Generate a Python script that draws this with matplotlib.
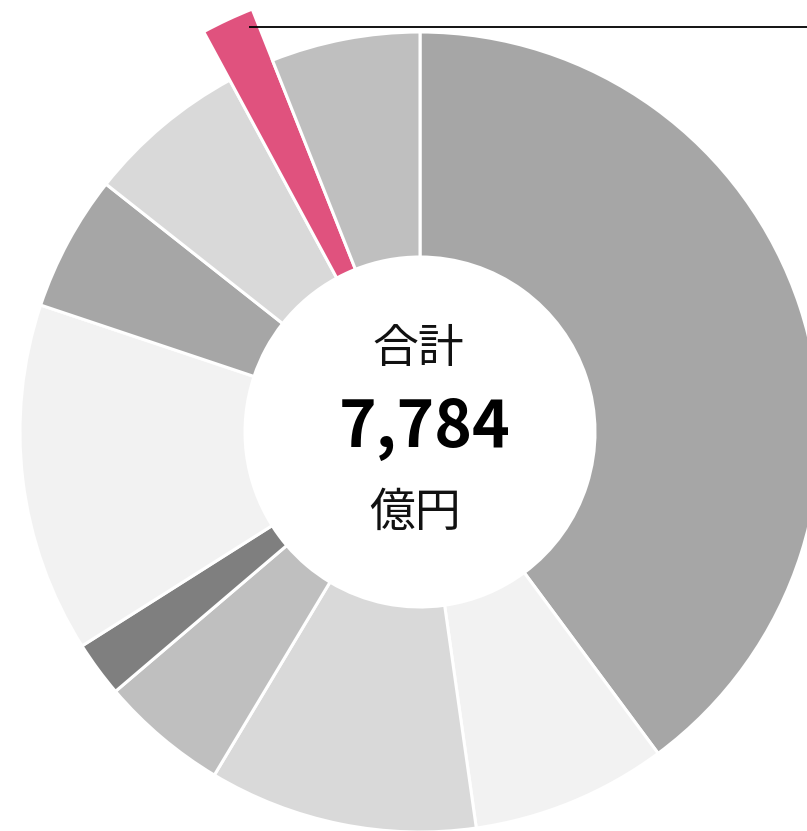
import matplotlib
matplotlib.use("Agg")
import matplotlib.pyplot as plt

plt.rcParams['font.family'] = ['Noto Sans CJK JP', 'DejaVu Sans']

# Data (億円)
categories = ["A", "B", "C", "D", "E", "F", "G", "H", "I", "J"]
values = [3102, 615, 844, 403, 175, 1099, 428, 504, 146, 468]
colors = ["#a6a6a6", "#f2f2f2", "#d9d9d9", "#bfbfbf", "#7f7f7f",
          "#f2f2f2", "#a6a6a6", "#d9d9d9", "#e0527e", "#bfbfbf"]
highlight = 8
total_label = "7,784"

W, H = 807, 831
fig = plt.figure(figsize=(W / 100, H / 100), dpi=100)
ax = fig.add_axes([0, 0, 1, 1])

cx, cy = 420, H - 432
r_out, r_in = 400, 175
wedges, _ = ax.pie(values, colors=colors, radius=r_out, center=(cx, cy),
                   startangle=90, counterclock=False,
                   wedgeprops=dict(width=r_out - r_in, edgecolor="white", linewidth=2.2))
hw = wedges[highlight]
hw.set_radius(455)
hw.set_width(455 - r_in)

ax.plot([249, W], [H - 27, H - 27], color="black", lw=1.3, solid_capstyle="butt")

ax.text(418, H - 349, "合計", ha="center", va="center", fontsize=33, color="#111111")
ax.text(425, H - 428, total_label, ha="center", va="center", fontsize=46,
        fontweight="bold", color="black")
ax.text(415, H - 513, "億円", ha="center", va="center", fontsize=33, color="#111111")

ax.set_xlim(0, W)
ax.set_ylim(0, H)
ax.set_aspect("auto")
ax.axis("off")

fig.savefig("out.png", dpi=100)
